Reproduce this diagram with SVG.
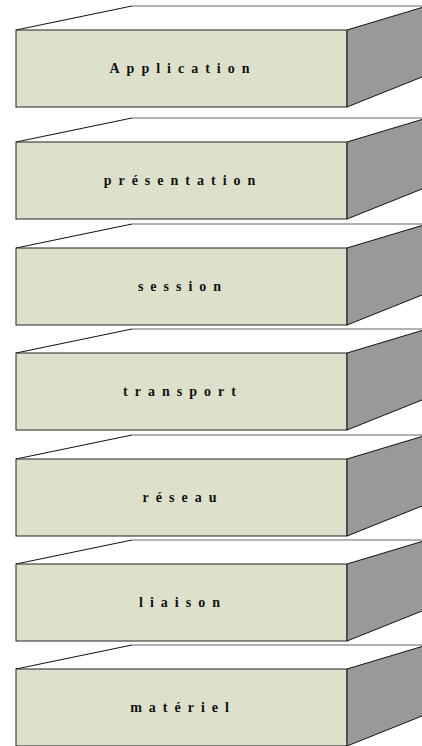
<svg xmlns="http://www.w3.org/2000/svg" width="422" height="746" viewBox="0 0 422 746">
<style>
.top{fill:#ffffff;stroke:none}
.edge{stroke:#111;stroke-width:1;fill:none}
.back{stroke:#666;stroke-width:1.2;fill:none}
.front{fill:#dde0cb;stroke:#222;stroke-width:1}
.side{fill:#999999;stroke:#111;stroke-width:1;stroke-linejoin:miter}
.lbl{font-family:"Liberation Serif","Times New Roman",serif;font-weight:bold;font-size:14px;letter-spacing:7px;fill:#111;text-anchor:middle}
</style>
<defs>
<g id="box">
<polygon class="top" points="16,0 132,-24 427,-24 347,0"/>
<line class="back" x1="132" y1="-24" x2="427" y2="-24"/>
<line class="edge" x1="16" y1="0" x2="132" y2="-24"/>
<rect class="front" x="16" y="0" width="331" height="77"/>
<polygon class="side" points="347,0 427,-24 427,45 347,77"/>
</g>
</defs>
<g id="application"><use href="#box" transform="translate(0,30)"/><text class="lbl" x="183" y="73">Application</text></g>
<g id="presentation"><use href="#box" transform="translate(0,142)"/><text class="lbl" x="183" y="185">présentation</text></g>
<g id="session"><use href="#box" transform="translate(0,248)"/><text class="lbl" x="183" y="291">session</text></g>
<g id="transport"><use href="#box" transform="translate(0,353)"/><text class="lbl" x="183" y="396">transport</text></g>
<g id="reseau"><use href="#box" transform="translate(0,459)"/><text class="lbl" x="183" y="502">réseau</text></g>
<g id="liaison"><use href="#box" transform="translate(0,564)"/><text class="lbl" x="183" y="607">liaison</text></g>
<g id="materiel"><use href="#box" transform="translate(0,669)"/><text class="lbl" x="183" y="712">matériel</text></g>
<g id="connectors"/>
</svg>
